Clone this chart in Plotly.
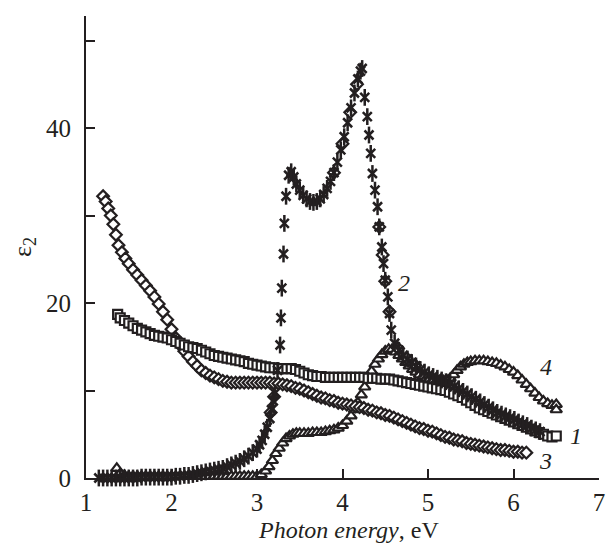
import plotly.graph_objects as go

# ---- curve 1 (open squares) ----
E1 = [1.37, 1.40, 1.45, 1.50, 1.55, 1.60, 1.65, 1.70, 1.75, 1.80, 1.85, 1.90, 1.95,
      2.00, 2.05, 2.10, 2.15, 2.20, 2.25, 2.30, 2.35, 2.40, 2.45, 2.50, 2.55, 2.60,
      2.65, 2.70, 2.75, 2.80, 2.85, 2.90, 2.95, 3.00, 3.05, 3.10, 3.15, 3.20, 3.25,
      3.30, 3.35, 3.40, 3.45, 3.50, 3.55, 3.60, 3.65, 3.70, 3.75, 3.80, 3.85, 3.90,
      3.95, 4.00, 4.05, 4.10, 4.15, 4.20, 4.25, 4.30, 4.35, 4.40, 4.45, 4.50, 4.55,
      4.60, 4.65, 4.70, 4.75, 4.80, 4.85, 4.90, 4.95, 5.00, 5.05, 5.10, 5.15, 5.20,
      5.25, 5.30, 5.35, 5.40, 5.45, 5.50, 5.55, 5.60, 5.65, 5.70, 5.75, 5.80, 5.85,
      5.90, 5.95, 6.00, 6.05, 6.10, 6.15, 6.20, 6.25, 6.30, 6.35, 6.40, 6.45, 6.50]
EPS1 = [18.7, 18.3, 18.0, 17.7, 17.4, 17.1, 16.9, 16.7, 16.5, 16.3, 16.2, 16.1, 16.0,
        15.8, 15.6, 15.4, 15.2, 15.0, 14.9, 14.8, 14.6, 14.4, 14.2, 14.0, 13.9, 13.8,
        13.7, 13.6, 13.5, 13.4, 13.3, 13.1, 13.0, 12.9, 12.8, 12.7, 12.6, 12.6, 12.5,
        12.5, 12.5, 12.5, 12.4, 12.2, 12.0, 11.8, 11.7, 11.6, 11.6, 11.5, 11.5, 11.5,
        11.5, 11.5, 11.5, 11.5, 11.5, 11.5, 11.5, 11.4, 11.4, 11.4, 11.3, 11.3, 11.3,
        11.2, 11.1, 11.0, 10.9, 10.8, 10.7, 10.6, 10.5, 10.4, 10.3, 10.2, 10.1, 10.0,
        9.8, 9.6, 9.4, 9.2, 8.9, 8.6, 8.3, 8.0, 7.8, 7.6, 7.4, 7.2, 7.0,
        6.8, 6.6, 6.4, 6.2, 6.0, 5.8, 5.6, 5.4, 5.2, 5.0, 4.8, 4.7, 4.8]

# ---- curve 2 (asterisks) ----
E2 = [1.15, 1.20, 1.25, 1.30, 1.35, 1.40, 1.45, 1.50, 1.55, 1.60, 1.65, 1.70, 1.75,
      1.80, 1.85, 1.90, 1.95, 2.00, 2.05, 2.10, 2.15, 2.20, 2.25, 2.30, 2.35, 2.40,
      2.45, 2.50, 2.55, 2.60, 2.65, 2.70, 2.75, 2.80, 2.85, 2.90, 2.95, 3.00, 3.03,
      3.06, 3.09, 3.12, 3.15, 3.17, 3.19, 3.21, 3.24, 3.27, 3.28, 3.29, 3.31, 3.32,
      3.34, 3.37, 3.40, 3.43, 3.46, 3.50, 3.54, 3.58, 3.62, 3.66, 3.70, 3.74, 3.78,
      3.82, 3.86, 3.90, 3.94, 3.98, 4.02, 4.06, 4.10, 4.14, 4.18, 4.21, 4.23, 4.26,
      4.29, 4.31, 4.33, 4.35, 4.38, 4.41, 4.43, 4.46, 4.48, 4.50, 4.53, 4.55, 4.57,
      4.61, 4.66, 4.71, 4.76, 4.81, 4.86, 4.91, 4.96, 5.01, 5.06, 5.11, 5.16, 5.21,
      5.26, 5.31, 5.36, 5.41, 5.46, 5.51, 5.56, 5.61, 5.66, 5.71, 5.76, 5.81, 5.86,
      5.91, 5.96, 6.01, 6.06, 6.11, 6.16, 6.21, 6.26, 6.31]
EPS2 = [0.0, 0.0, 0.0, 0.0, 0.0, 0.0, 0.0, 0.0, 0.0, 0.0, 0.1, 0.1, 0.1,
        0.1, 0.1, 0.1, 0.1, 0.1, 0.2, 0.2, 0.3, 0.3, 0.4, 0.5, 0.6, 0.7,
        0.8, 0.9, 1.0, 1.1, 1.3, 1.5, 1.7, 1.9, 2.2, 2.5, 2.9, 3.3, 3.8,
        4.3, 5.0, 5.8, 6.8, 7.8, 8.8, 9.7, 12.3, 15.2, 18.3, 21.7, 25.6, 29.1,
        32.2, 34.6, 35.0, 34.4, 33.6, 32.9, 32.3, 31.9, 31.6, 31.5, 31.6, 31.9, 32.4,
        33.1, 33.9, 34.9, 36.1, 37.5, 39.0, 40.6, 42.3, 44.0, 45.6, 46.5, 46.8, 43.5,
        41.3, 39.2, 37.1, 34.8, 32.9, 31.0, 28.7, 26.4, 24.5, 22.6, 20.7, 18.8, 16.9,
        15.4, 14.6, 14.0, 13.6, 13.2, 12.8, 12.4, 12.1, 11.8, 11.6, 11.4, 11.2, 11.0,
        10.8, 10.5, 10.2, 9.9, 9.6, 9.3, 9.0, 8.7, 8.4, 8.1, 7.8, 7.5, 7.3,
        7.1, 6.9, 6.7, 6.4, 6.2, 6.0, 5.7, 5.5, 5.3]

# diamonds measured along curve 2
E2D = [3.16, 3.20, 3.90, 4.00, 4.09, 4.17, 4.43, 4.47, 4.50, 4.55, 4.65, 4.75, 4.85]
EPS2D = [7.5, 9.3, 34.9, 38.2, 41.8, 45.0, 28.7, 25.5, 22.5, 19.0, 14.8, 13.7, 12.9]

# ---- curve 3 (open diamonds) ----
E3 = [1.20, 1.23, 1.26, 1.29, 1.32, 1.35, 1.38, 1.42, 1.46, 1.50, 1.55, 1.60, 1.65,
      1.70, 1.75, 1.80, 1.85, 1.90, 1.95, 2.00, 2.05, 2.10, 2.15, 2.20, 2.25, 2.30,
      2.35, 2.40, 2.45, 2.50, 2.55, 2.60, 2.65, 2.70, 2.75, 2.80, 2.85, 2.90, 2.95,
      3.00, 3.05, 3.10, 3.15, 3.20, 3.25, 3.30, 3.35, 3.40, 3.45, 3.50, 3.55, 3.60,
      3.65, 3.70, 3.75, 3.80, 3.85, 3.90, 3.95, 4.00, 4.05, 4.10, 4.15, 4.20, 4.25,
      4.30, 4.35, 4.40, 4.45, 4.50, 4.55, 4.60, 4.65, 4.70, 4.75, 4.80, 4.85, 4.90,
      4.95, 5.00, 5.05, 5.10, 5.15, 5.20, 5.25, 5.30, 5.35, 5.40, 5.45, 5.50, 5.55,
      5.60, 5.65, 5.70, 5.75, 5.80, 5.85, 5.90, 5.95, 6.00, 6.05, 6.10, 6.15]
EPS3 = [32.2, 31.6, 30.8, 30.0, 29.0, 27.8, 26.6, 25.8, 25.1, 24.5, 23.8, 23.2, 22.6,
        22.0, 21.4, 20.7, 19.9, 19.0, 18.1, 17.0, 16.0, 15.2, 14.5, 13.9, 13.3, 12.8,
        12.3, 12.0, 11.7, 11.5, 11.3, 11.1, 11.0, 10.9, 10.9, 10.9, 10.9, 10.9, 10.9,
        10.9, 10.9, 10.9, 10.9, 10.8, 10.8, 10.7, 10.6, 10.5, 10.3, 10.2, 10.0, 9.8,
        9.6, 9.4, 9.2, 9.1, 8.9, 8.8, 8.6, 8.5, 8.4, 8.3, 8.2, 8.1, 8.0,
        7.8, 7.7, 7.5, 7.4, 7.2, 7.1, 6.9, 6.7, 6.5, 6.3, 6.1, 5.9, 5.7,
        5.6, 5.4, 5.3, 5.1, 4.9, 4.7, 4.6, 4.4, 4.3, 4.2, 4.0, 3.9, 3.8,
        3.7, 3.6, 3.5, 3.4, 3.3, 3.2, 3.2, 3.1, 3.0, 3.0, 2.9, 2.9]

# ---- curve 4 (open triangles) ----
E4 = [1.36, 1.40, 1.45, 1.50, 1.55, 1.60, 1.65, 1.70, 1.75, 1.80, 1.85, 1.90, 1.95,
      2.00, 2.05, 2.10, 2.15, 2.20, 2.25, 2.30, 2.35, 2.40, 2.45, 2.50, 2.55, 2.60,
      2.65, 2.70, 2.75, 2.80, 2.85, 2.90, 2.95, 3.00, 3.05, 3.10, 3.14, 3.18, 3.22,
      3.26, 3.30, 3.34, 3.38, 3.42, 3.46, 3.50, 3.55, 3.60, 3.65, 3.70, 3.75, 3.80,
      3.85, 3.90, 3.95, 4.00, 4.05, 4.10, 4.14, 4.18, 4.22, 4.26, 4.30, 4.34, 4.38,
      4.42, 4.46, 4.50, 4.54, 4.58, 4.62, 4.66, 4.70, 4.74, 4.78, 4.82, 4.86, 4.90,
      4.94, 4.98, 5.02, 5.06, 5.10, 5.14, 5.18, 5.22, 5.26, 5.30, 5.34, 5.38, 5.42,
      5.46, 5.50, 5.55, 5.60, 5.65, 5.70, 5.75, 5.80, 5.85, 5.90, 5.95, 6.00, 6.05,
      6.10, 6.15, 6.20, 6.25, 6.30, 6.35, 6.40, 6.45, 6.50, 6.50]
EPS4 = [1.1, 0.5, 0.3, 0.2, 0.2, 0.2, 0.2, 0.2, 0.2, 0.2, 0.2, 0.2, 0.2,
        0.2, 0.2, 0.2, 0.2, 0.2, 0.2, 0.2, 0.2, 0.2, 0.2, 0.2, 0.2, 0.2,
        0.2, 0.2, 0.2, 0.2, 0.2, 0.2, 0.2, 0.2, 0.4, 0.8, 1.3, 2.0, 2.8,
        3.4, 4.0, 4.5, 4.8, 5.0, 5.1, 5.1, 5.1, 5.1, 5.2, 5.2, 5.2, 5.3,
        5.4, 5.5, 5.7, 6.0, 6.5, 7.1, 7.8, 8.6, 9.5, 10.4, 11.3, 12.2, 13.0,
        13.6, 14.1, 14.5, 14.7, 14.7, 14.4, 14.0, 13.6, 13.2, 12.8, 12.4, 12.1, 11.8,
        11.6, 11.4, 11.3, 11.2, 11.1, 11.1, 11.1, 11.2, 11.4, 11.8, 12.3, 12.7, 13.0,
        13.2, 13.3, 13.4, 13.4, 13.4, 13.3, 13.2, 13.1, 12.9, 12.7, 12.4, 12.1, 11.7,
        11.2, 10.7, 10.2, 9.7, 9.2, 8.8, 8.5, 8.3, 8.4, 7.8]

X_TICKS = [1, 2, 3, 4, 5, 6, 7]
Y_TICKS = [0, 20, 40]
Y_MINOR = [10, 30, 50]

CURVE_LABELS = [("1", 6.73, 4.8), ("2", 4.72, 22.3), ("3", 6.38, 1.9), ("4", 6.38, 12.7)]

SERIF = "Liberation Serif"
INK = "#231f20"

fig = go.Figure()


def add_markers(x, y, symbol, size, width=2.2, fill="white"):
    fig.add_trace(go.Scatter(
        x=x, y=y, mode="markers", cliponaxis=False, showlegend=False,
        marker=dict(symbol=symbol, size=size, color=fill,
                    line=dict(color=INK, width=width)),
    ))


add_markers(E4, EPS4, "triangle-up", 10)
add_markers(E3, EPS3, "diamond", 9)
add_markers(E1, EPS1, "square", 9)
add_markers(E2D, EPS2D, "diamond", 9)
# six-armed asterisk: an x plus a vertical stroke
add_markers(E2, EPS2, "x-thin-open", 9, width=2.5, fill=INK)
add_markers(E2, EPS2, "line-ns-open", 12, width=2.5, fill=INK)

for txt, lx, ly in CURVE_LABELS:
    fig.add_annotation(x=lx, y=ly, text=f"<i>{txt}</i>", showarrow=False,
                       font=dict(family=SERIF, size=24, color=INK))

fig.add_annotation(xref="paper", yref="paper", x=0.5116, y=0, yshift=-52,
                   xanchor="center", yanchor="middle", showarrow=False,
                   text="<i>Photon energy</i>, eV",
                   font=dict(family=SERIF, size=24, color=INK))
fig.add_annotation(xref="paper", yref="paper", x=0, y=0.5, xshift=-62,
                   xanchor="center", yanchor="middle", showarrow=False,
                   textangle=-90, text="ε<sub>2</sub>",
                   font=dict(family=SERIF, size=26, color=INK))

axis_common = dict(showgrid=False, zeroline=False, showline=True, linewidth=2,
                   linecolor=INK, ticks="inside", ticklen=9, tickwidth=1.5,
                   tickcolor=INK, tickfont=dict(family=SERIF, size=25, color=INK))

fig.update_xaxes(range=[1, 7], tickvals=X_TICKS, ticklabelstandoff=1,
                 ticklabeloverflow="allow", **axis_common)
fig.update_yaxes(range=[0, 52.8], tickvals=Y_TICKS, ticklabelstandoff=8,
                 minor=dict(tickvals=Y_MINOR, ticks="inside", ticklen=9,
                            tickwidth=1.5, tickcolor=INK, showgrid=False),
                 **axis_common)

fig.update_layout(
    width=606, height=548,
    margin=dict(l=86, r=1, t=16, b=70),
    paper_bgcolor="white", plot_bgcolor="white",
    showlegend=False,
)

fig.write_html("out.html")
